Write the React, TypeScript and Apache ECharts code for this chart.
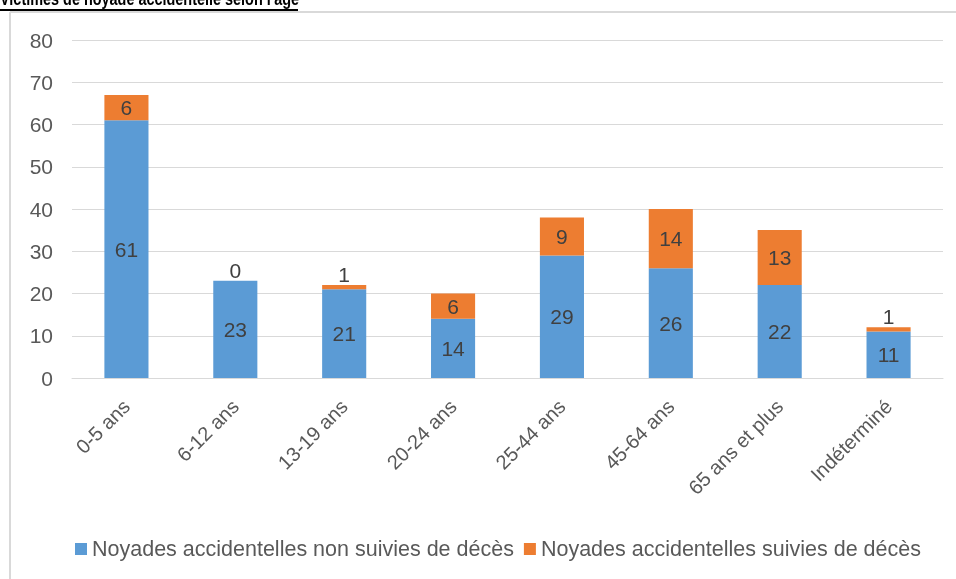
import React, { useEffect, useRef } from "react";
import * as echarts from "echarts";

const categories = ["0-5 ans", "6-12 ans", "13-19 ans", "20-24 ans", "25-44 ans", "45-64 ans", "65 ans et plus", "Indéterminé"];
const nonFatal = [61, 23, 21, 14, 29, 26, 22, 11];
const fatal = [6, 0, 1, 6, 9, 14, 13, 1];
const seriesNames = ["Noyades accidentelles non suivies de décès", "Noyades accidentelles suivies de décès"];
const titleText = "Victimes de noyade accidentelle selon l'âge";

const FONT = "Liberation Sans";

export default function App() {
  const ref = useRef<HTMLDivElement>(null);
  useEffect(() => {
    document.body.style.margin = "0";
    const chart = echarts.init(ref.current!, null, { renderer: "svg" });
    chart.setOption({
      animation: false,
      textStyle: { fontFamily: FONT },
      graphic: [
        { type: "line", shape: { x1: 10, y1: 12, x2: 956, y2: 12 }, style: { stroke: "#d9d9d9", lineWidth: 2 } },
        { type: "line", shape: { x1: 10, y1: 12, x2: 10, y2: 579 }, style: { stroke: "#d9d9d9", lineWidth: 2 } },
        {
          type: "text",
          x: 0,
          y: -11,
          scaleX: 0.76,
          style: { text: titleText, font: "bold 19px Liberation Sans", fill: "#000", verticalAlign: "top" },
        },
        { type: "line", shape: { x1: 0, y1: 10, x2: 298, y2: 10 }, style: { stroke: "#000", lineWidth: 2 } },
      ],
      grid: { left: 72, right: 13, top: 40, bottom: 201, containLabel: false },
      legend: {
        top: 533,
        left: 70,
        itemWidth: 12,
        itemHeight: 12,
        itemGap: 10,
        icon: "rect",
        textStyle: { color: "#595959", fontSize: 21.5, fontFamily: FONT },
        data: seriesNames,
      },
      xAxis: {
        type: "category",
        data: categories,
        axisLine: { lineStyle: { color: "#d9d9d9", width: 1 } },
        axisTick: { show: false },
        axisLabel: { rotate: 45, color: "#595959", fontSize: 20, margin: 25, interval: 0 },
      },
      yAxis: {
        type: "value",
        min: 0,
        max: 80,
        interval: 10,
        axisLine: { show: false },
        axisTick: { show: false },
        axisLabel: { color: "#595959", fontSize: 21, margin: 19 },
        splitLine: { lineStyle: { color: "#d9d9d9", width: 1 } },
      },
      series: [
        {
          name: seriesNames[0],
          type: "bar",
          stack: "total",
          barWidth: "40.5%",
          itemStyle: { color: "#5B9BD5" },
          data: nonFatal,
          label: { show: true, position: "inside", color: "#404040", fontSize: 21 },
        },
        {
          name: seriesNames[1],
          type: "bar",
          stack: "total",
          itemStyle: { color: "#ED7D31" },
          data: fatal.map((v) => ({
            value: v,
            label: v <= 1 ? { position: "top", distance: 0 } : { position: "inside" },
          })),
          label: { show: true, color: "#404040", fontSize: 21 },
        },
      ],
    });
    return () => chart.dispose();
  }, []);
  return <div ref={ref} style={{ position: "fixed", left: 0, top: 0, width: 956, height: 579 }} />;
}
